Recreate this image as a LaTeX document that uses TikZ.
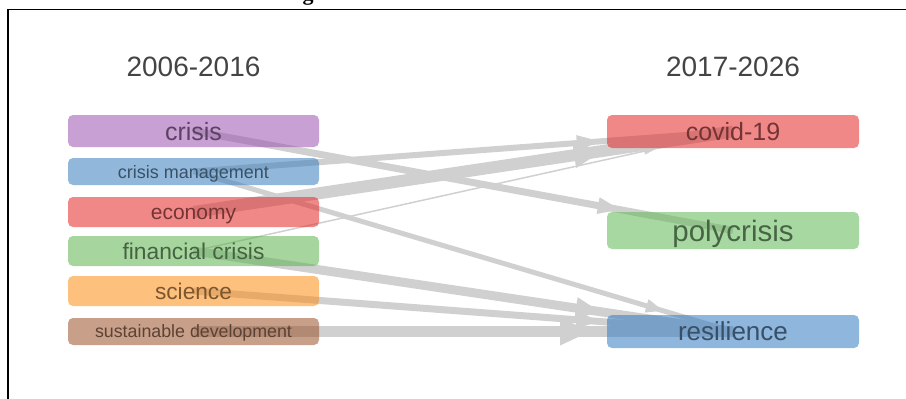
\documentclass[tikz,border=0pt]{standalone}
\usepackage{fontspec}
\setmainfont{Liberation Sans}
\newfontfamily\titlefont{Liberation Serif}
\usetikzlibrary{calc,backgrounds}
\definecolor{cpurple}{RGB}{155,82,177}
\definecolor{cblue}{RGB}{55,126,188}
\definecolor{cred}{RGB}{228,39,39}
\definecolor{cgreen}{RGB}{93,180,79}
\definecolor{corange}{RGB}{251,140,19}
\definecolor{cbrown}{RGB}{155,80,40}
\definecolor{cgreenb}{RGB}{97,184,86}
\definecolor{cblueb}{RGB}{51,122,191}
\definecolor{edgecol}{RGB}{208,208,208}
\definecolor{headcol}{RGB}{68,68,68}
\tikzset{
  term/.style n args={4}{draw=none, fill=#1, fill opacity=0.55, text opacity=1,
    text=#1!40!black!85, rounded corners=5pt, minimum width=251pt,
    minimum height=#2, inner sep=0pt, font=\fontsize{#3}{#3}\selectfont,
    text height=#4, text depth=0pt},
  head/.style={text=headcol, inner sep=0pt, font=\fontsize{28}{28}\selectfont},
  edgeline/.style={draw=edgecol, line cap=butt},
  edgehead/.style={fill=edgecol},
  frame/.style={draw=black, line width=1.6pt},
}
\newcommand\edgearrow[6]{%
  \draw[edgeline, line width=#3] (#1.center) -- (#2.center);
  \path ($(#1.center)!#4!(#2.center)$) coordinate (tipA);
  \path ($(tipA)!#5!(#1.center)$) coordinate (baseA);
  \fill[edgehead] (tipA) -- ($(baseA)!#6!90:(tipA)$) -- ($(baseA)!#6!-90:(tipA)$) -- cycle;
}
\begin{document}
\begin{tikzpicture}[x=1pt,y=-1pt]
\useasboundingbox (0,0) rectangle (906,399);
% frame and title fragment
\draw[frame] (8,399) -- (8,9.5) -- (906,9.5);
\node (titlefrag) [anchor=base, inner sep=0pt, font=\titlefont\bfseries\fontsize{22}{22}\selectfont] at (308,0.5) {g};
% headers
\node[head] (h1) at (193.5,66.5) {2006-2016};
\node[head] (h2) at (733,66.5) {2017-2026};
% left terms
\node[term={cpurple}{32pt}{25}{18pt}] (crisis) at (193.5,131) {crisis};
\node[term={cblue}{27pt}{18}{13pt}] (cm) at (193.5,171.5) {crisis management};
\node[term={cred}{30pt}{21}{15pt}] (econ) at (193.5,212) {economy};
\node[term={cgreen}{30pt}{22.8}{16.4pt}] (fin) at (193.5,251) {financial crisis};
\node[term={corange}{30pt}{22.7}{16.3pt}] (sci) at (193.5,291) {science};
\node[term={cbrown}{27pt}{17.8}{12.8pt}] (sus) at (193.5,331.5) {sustainable development};
% right terms
\node[term={cred}{33pt}{25}{18pt}, minimum width=252pt] (covid) at (733,131.5) {covid-19};
\node[term={cgreenb}{37pt}{29.5}{21.2pt}, minimum width=252pt] (poly) at (733,230.5) {polycrisis};
\node[term={cblueb}{33pt}{26}{18.7pt}, minimum width=252pt] (res) at (733,331.5) {resilience};
% connectors below the semi-transparent boxes
\begin{scope}[on background layer]
\edgearrow{crisis}{poly}{7pt}{0.790}{22pt}{8.5pt}
\edgearrow{cm}{covid}{6pt}{0.753}{23pt}{8pt}
\edgearrow{cm}{res}{5pt}{0.870}{17pt}{7pt}
\edgearrow{econ}{covid}{12pt}{0.757}{28pt}{13pt}
\edgearrow{fin}{covid}{1.5pt}{0.859}{13pt}{3.5pt}
\edgearrow{fin}{res}{9pt}{0.753}{24pt}{11pt}
\edgearrow{sci}{res}{7pt}{0.750}{22pt}{9.5pt}
\edgearrow{sus}{res}{11pt}{0.735}{30pt}{14pt}
\end{scope}
\end{tikzpicture}
\end{document}
